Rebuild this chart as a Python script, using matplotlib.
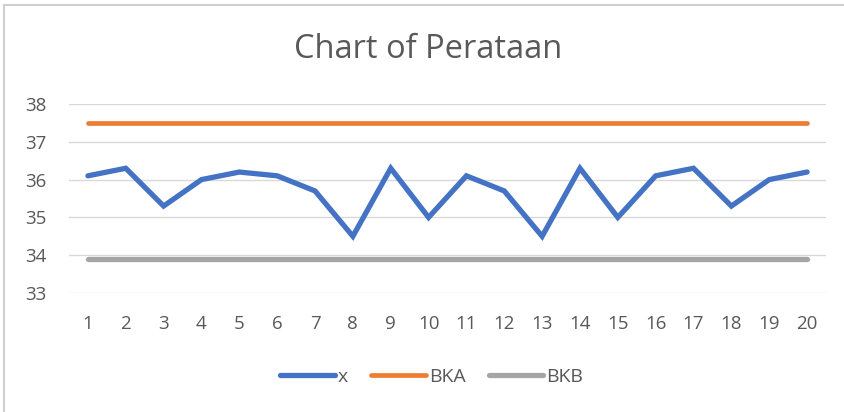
import matplotlib
matplotlib.use("Agg")
import matplotlib.pyplot as plt
from matplotlib.lines import Line2D

# values
samples = list(range(1, 21))
x_mean = [36.1, 36.3, 35.3, 36.0, 36.2, 36.1, 35.7, 34.5, 36.3, 35.0,
          36.1, 35.7, 34.5, 36.3, 35.0, 36.1, 36.3, 35.3, 36.0, 36.2]
bka = [37.5] * 20
bkb = [33.9] * 20
y_ticks = [33, 34, 35, 36, 37, 38]

W, H = 845, 412
TEXT = "#595959"
plt.rcParams["font.family"] = ["Open Sans", "DejaVu Sans"]

fig = plt.figure(figsize=(W / 100, H / 100), dpi=100)
ax = fig.add_axes([69 / W, (H - 293) / H, (826 - 69) / W, (293 - 104) / H])

ax.plot(samples, x_mean, color="#4472C4", linewidth=3.8, label="x",
        solid_capstyle="round", solid_joinstyle="miter", zorder=3)
ax.plot(samples, bka, color="#ED7D31", linewidth=3.4, label="BKA",
        solid_capstyle="round", zorder=3)
ax.plot(samples, bkb, color="#A5A5A5", linewidth=3.8, label="BKB",
        solid_capstyle="round", zorder=3)

ax.set_xlim(0.5, 20.5)
ax.set_ylim(33, 38)
ax.set_xticks(samples)
ax.set_yticks(y_ticks)
ax.grid(axis="y", color="#D9D9D9", linewidth=1.0)
ax.set_axisbelow(True)
for side in ["top", "right", "left", "bottom"]:
    ax.spines[side].set_visible(False)
ax.tick_params(axis="both", length=0, labelsize=13.5, labelcolor=TEXT)
ax.tick_params(axis="x", pad=16)
ax.tick_params(axis="y", pad=16)

fig.text(428 / W, 1 - 50 / H, "Chart of Perataan", ha="center", va="center",
         fontsize=23.5, color=TEXT)

leg = fig.legend(loc="center", bbox_to_anchor=(0.511, 1 - 377 / H), ncol=3,
                 frameon=False, fontsize=14, labelcolor=TEXT,
                 handlelength=2.8, handletextpad=0.15, columnspacing=1.2)

# light chart border: only the left and top edges show in the reference
fig.add_artist(Line2D([4.5 / W, 4.5 / W], [0, 1 - 4.5 / H],
                      transform=fig.transFigure, color="#D0D0D0", linewidth=1.5))
fig.add_artist(Line2D([4.5 / W, 1], [1 - 4.5 / H, 1 - 4.5 / H],
                      transform=fig.transFigure, color="#D0D0D0", linewidth=1.5))

fig.savefig("out.png", dpi=100)
